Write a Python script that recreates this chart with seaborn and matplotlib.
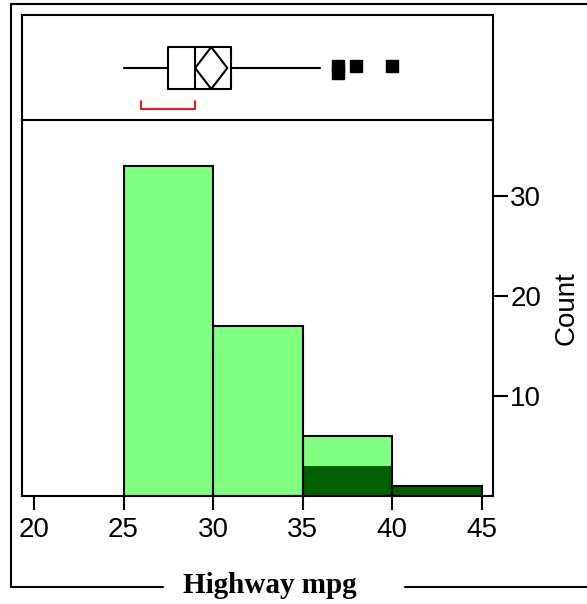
import matplotlib
matplotlib.use("Agg")
import matplotlib.pyplot as plt
from matplotlib.lines import Line2D
import seaborn as sns
import pandas as pd

# ---- data ----
bin_edges = [25, 30, 35, 40, 45]
bin_counts = [33, 17, 6, 1]
selected_counts = [0, 0, 3, 1]
x_ticks = [20, 25, 30, 35, 40, 45]
y_ticks = [10, 20, 30]

box_whisker_low = 25
box_q1 = 27.5
box_median = 29
box_q3 = 31
box_whisker_high = 36
box_mean = 29.9
mean_ci_half = 0.9
outliers = [37, 37, 38, 40]
shortest_half = [26, 29]

x_label = "Highway mpg"
y_label = "Count"

# ---- style ----
sns.set_style("white")
plt.rcParams["font.family"] = ["Liberation Sans", "DejaVu Sans"]
plt.rcParams["text.color"] = "black"
plt.rcParams["axes.labelcolor"] = "black"
plt.rcParams["xtick.color"] = "black"
plt.rcParams["ytick.color"] = "black"

LIGHT = "#80FF80"
DARK = "#006000"
LW = 1.5
W, H = 587, 604

fig = plt.figure(figsize=(W / 100, H / 100), dpi=100)
ax_hist = fig.add_axes([22 / W, 1 - 496 / H, 471 / W, 376 / H])
ax_box = fig.add_axes([22 / W, 1 - 120 / H, 471 / W, 105 / H], sharex=ax_hist)
ax_hist.patch.set_visible(False)

# ---- histogram ----
centers = [(a + b) / 2 for a, b in zip(bin_edges[:-1], bin_edges[1:])]
df = pd.DataFrame({"mpg": centers, "total": bin_counts, "sel": selected_counts})
sns.histplot(data=df, x="mpg", weights="total", bins=bin_edges, color=LIGHT,
             alpha=1, edgecolor="none", linewidth=0, ax=ax_hist)
sns.histplot(data=df, x="mpg", weights="sel", bins=bin_edges, color=DARK,
             alpha=1, edgecolor="none", linewidth=0, ax=ax_hist)
sns.histplot(data=df, x="mpg", weights="total", bins=bin_edges, fill=False,
             color="black", linewidth=LW, ax=ax_hist)

ax_hist.set_xlim(19.33, 45.64)
ax_hist.set_ylim(0, 37.6)
ax_hist.set_xticks(x_ticks)
ax_hist.set_yticks(y_ticks)
ax_hist.yaxis.tick_right()
ax_hist.yaxis.set_label_position("right")
ax_hist.set_xlabel("")
ax_hist.set_ylabel(y_label, fontsize=20, labelpad=9)
ax_hist.tick_params(axis="x", direction="out", length=10, width=LW, pad=5,
                    labelsize=20, bottom=True)
ax_hist.tick_params(axis="y", direction="out", length=11, width=LW, pad=1.5,
                    labelsize=20, right=True, left=False, labelright=True,
                    labelleft=False)
for s in ax_hist.spines.values():
    s.set_linewidth(LW)
    s.set_color("black")
ax_hist.spines["top"].set_visible(False)

# ---- box plot panel ----
c = 0.495
stats = [dict(med=box_median, q1=box_q1, q3=box_q3, whislo=box_whisker_low,
              whishi=box_whisker_high, fliers=[], mean=box_mean)]
lp = dict(color="black", linewidth=LW)
ax_box.bxp(stats, positions=[c], widths=0.4, orientation="horizontal",
           showcaps=False, showfliers=False, boxprops=lp, whiskerprops=lp,
           medianprops=lp, manage_ticks=False)
ax_box.plot([box_mean - mean_ci_half, box_mean, box_mean + mean_ci_half, box_mean,
             box_mean - mean_ci_half],
            [c, c + 0.2, c, c - 0.2, c], color="black", lw=LW)

seen = {}
ox, oy = [], []
for v in outliers:
    k = seen.get(v, 0)
    seen[v] = k + 1
    ox.append(v)
    oy.append(0.519 - 0.067 * k)
ax_box.plot(ox, oy, "s", ms=8, color="black", mec="black")

ax_box.plot([shortest_half[0], shortest_half[0], shortest_half[1], shortest_half[1]],
            [0.181, 0.105, 0.105, 0.181], color="#F01818", lw=LW)

ax_box.set_ylim(0, 1)
ax_box.tick_params(bottom=False, labelbottom=False, left=False, labelleft=False)
for s in ax_box.spines.values():
    s.set_linewidth(LW)
    s.set_color("black")

# ---- outer frame and title ----
def fl(x0, y0, x1, y1):
    fig.add_artist(Line2D([x0 / W, x1 / W], [1 - y0 / H, 1 - y1 / H],
                          color="black", lw=LW, transform=fig.transFigure))

fl(11, 4.3, 11, 586.7)
fl(11, 4.3, W, 4.3)
fl(11, 586.7, 163.3, 586.7)
fl(405, 586.7, W, 586.7)
fig.text(270 / W, 1 - 593.3 / H, x_label, family=["Liberation Serif", "DejaVu Serif"],
         weight="bold", size=21, ha="center", va="baseline", color="black")

fig.savefig("out.png", dpi=100)
